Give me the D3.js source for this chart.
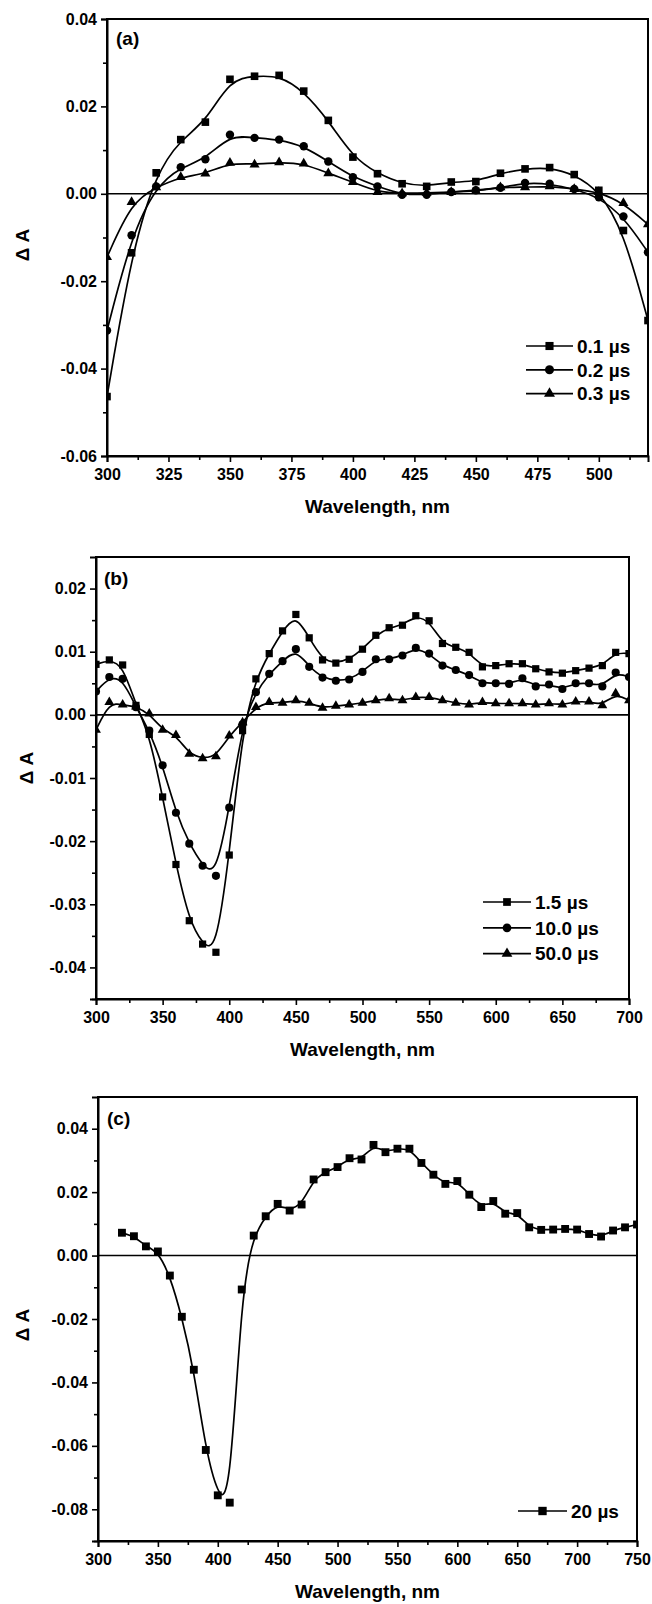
<!DOCTYPE html>
<html>
<head>
<meta charset="utf-8">
<script src="https://cdn.jsdelivr.net/npm/d3@7"></script>
<style>
    body { margin: 0; background: #fff; }
    svg  { display: block; font-family: "Liberation Sans", Arial, Helvetica, sans-serif; font-weight: bold; }
</style>
</head>
<body>
<svg id="chart" width="652" height="1604"></svg>
<script>
(function () {
    'use strict';

    // ── 数据 (a) ──────────────────────────────────────────────────────────────
    const wlA   = [300, 310, 320, 330, 340, 350, 360, 370, 380, 390, 400, 410,
                   420, 430, 440, 450, 460, 470, 480, 490, 500, 510, 520];
    const a01us = [-0.0464, -0.0135, 0.0048, 0.0124, 0.0164, 0.0262, 0.0269, 0.0271, 0.0235, 0.0168, 0.0084, 0.0046,
                   0.0023, 0.0017, 0.0027, 0.0028, 0.0047, 0.0057, 0.0060, 0.0044, 0.0008, -0.0084, -0.0290];
    const a02us = [-0.0313, -0.0095, 0.0017, 0.0061, 0.0079, 0.0135, 0.0128, 0.0124, 0.0109, 0.0074, 0.0038, 0.0017,
                   -0.0002, -0.0002, 0.0004, 0.0008, 0.0014, 0.0025, 0.0023, 0.0011, -0.0008, -0.0052, -0.0134];
    const a03us = [-0.0145, -0.0019, 0.0015, 0.0038, 0.0046, 0.0071, 0.0067, 0.0072, 0.0069, 0.0047, 0.0027, 0.0004,
                   0.0001, 0.0002, 0.0004, 0.0006, 0.0015, 0.0015, 0.0017, 0.0011, 0.0004, -0.0021, -0.0070];

    // ── 数据 (b) ──────────────────────────────────────────────────────────────
    const wlB    = [300, 310, 320, 330, 340, 350, 360, 370, 380, 390, 400, 410, 420, 430,
                    440, 450, 460, 470, 480, 490, 500, 510, 520, 530, 540, 550, 560, 570,
                    580, 590, 600, 610, 620, 630, 640, 650, 660, 670, 680, 690, 700];
    const b1_5us = [0.0080, 0.0087, 0.0079, 0.0015, -0.0031, -0.0130, -0.0237, -0.0326, -0.0363, -0.0376, -0.0222, -0.0025, 0.0057, 0.0097,
                    0.0133, 0.0159, 0.0122, 0.0087, 0.0082, 0.0088, 0.0104, 0.0126, 0.0138, 0.0142, 0.0157, 0.0149, 0.0113, 0.0107,
                    0.0099, 0.0076, 0.0078, 0.0081, 0.0081, 0.0073, 0.0068, 0.0066, 0.0070, 0.0074, 0.0078, 0.0099, 0.0097];
    const b10us  = [0.0037, 0.0060, 0.0057, 0.0012, -0.0025, -0.0080, -0.0155, -0.0204, -0.0239, -0.0255, -0.0147, -0.0015, 0.0036, 0.0065,
                    0.0085, 0.0104, 0.0076, 0.0059, 0.0054, 0.0056, 0.0068, 0.0088, 0.0088, 0.0094, 0.0106, 0.0097, 0.0078, 0.0071,
                    0.0063, 0.0050, 0.0050, 0.0049, 0.0058, 0.0045, 0.0048, 0.0041, 0.0050, 0.0050, 0.0045, 0.0067, 0.0060];
    const b50us  = [-0.0024, 0.0020, 0.0016, 0.0013, 0.0002, -0.0024, -0.0032, -0.0062, -0.0069, -0.0066, -0.0033, -0.0012, 0.0012, 0.0020,
                    0.0019, 0.0023, 0.0019, 0.0011, 0.0014, 0.0016, 0.0019, 0.0023, 0.0026, 0.0023, 0.0028, 0.0028, 0.0023, 0.0019,
                    0.0016, 0.0020, 0.0018, 0.0018, 0.0018, 0.0016, 0.0018, 0.0016, 0.0021, 0.0021, 0.0015, 0.0034, 0.0023];

    // ── 数据 (c) ──────────────────────────────────────────────────────────────
    const wlC   = [320, 330, 340, 350, 360, 370, 380, 390, 400, 410, 420, 430, 440, 450, 460,
                   470, 480, 490, 500, 510, 520, 530, 540, 550, 560, 570, 580, 590, 600, 610,
                   620, 630, 640, 650, 660, 670, 680, 690, 700, 710, 720, 730, 740, 750];
    const c20us = [0.0072, 0.0061, 0.0029, 0.0013, -0.0063, -0.0193, -0.0360, -0.0613, -0.0756, -0.0779, -0.0107, 0.0063, 0.0124, 0.0163, 0.0142,
                   0.0161, 0.0240, 0.0263, 0.0279, 0.0307, 0.0303, 0.0349, 0.0326, 0.0337, 0.0337, 0.0292, 0.0255, 0.0226, 0.0235, 0.0192,
                   0.0153, 0.0172, 0.0132, 0.0134, 0.0089, 0.0081, 0.0082, 0.0084, 0.0082, 0.0068, 0.0060, 0.0079, 0.0089, 0.0098];

    // ── 刻度 ──────────────────────────────────────────────────────────────────
    const xTicksA      = [300, 325, 350, 375, 400, 425, 450, 475, 500];
    const xMinorA      = [312.5, 337.5, 362.5, 387.5, 412.5, 437.5, 462.5, 487.5, 512.5];
    const yTicksA      = [-0.06, -0.04, -0.02, 0, 0.02, 0.04];
    const yMinorA      = [-0.05, -0.03, -0.01, 0.01, 0.03];
    const xTicksB      = [300, 350, 400, 450, 500, 550, 600, 650, 700];
    const xMinorB      = [325, 375, 425, 475, 525, 575, 625, 675];
    const yTicksB      = [-0.04, -0.03, -0.02, -0.01, 0, 0.01, 0.02];
    const yMinorB      = [-0.045, -0.035, -0.025, -0.015, -0.005, 0.005, 0.015];
    const xTicksC      = [300, 350, 400, 450, 500, 550, 600, 650, 700, 750];
    const xMinorC      = [325, 375, 425, 475, 525, 575, 625, 675, 725];
    const yTicksC      = [-0.08, -0.06, -0.04, -0.02, 0, 0.02, 0.04];
    const yMinorC      = [-0.09, -0.07, -0.05, -0.03, -0.01, 0.01, 0.03];

    const labelsA = ['0.1 µs', '0.2 µs', '0.3 µs'];
    const labelsB = ['1.5 µs', '10.0 µs', '50.0 µs'];
    const labelsC = ['20 µs'];

    const symbols = [d3.symbolSquare, d3.symbolCircle, d3.symbolTriangle];

    // ── 面板布局 ──────────────────────────────────────────────────────────────
    const panels = [
        {
            tag: '(a)', left: 107, right: 648, top: 19, bottom: 456,
            xDomain: [300, 520], yDomain: [-0.06, 0.04],
            xTicks: xTicksA, xMinor: xMinorA, yTicks: yTicksA, yMinor: yMinorA,
            x: wlA, series: [a01us, a02us, a03us], labels: labelsA,
            symSize: [58, 56, 44],
            legend: { x1: 526, x2: 573, y0: 346, dy: 23.8 },
            tagPos: [116, 45], yLab: [22, 245]
        },
        {
            tag: '(b)', left: 96, right: 629, top: 557, bottom: 999,
            xDomain: [300, 700], yDomain: [-0.045, 0.025],
            xTicks: xTicksB, xMinor: xMinorB, yTicks: yTicksB, yMinor: yMinorB,
            x: wlB, series: [b1_5us, b10us, b50us], labels: labelsB,
            symSize: [52, 52, 42],
            legend: { x1: 483, x2: 531, y0: 902, dy: 25.8 },
            tagPos: [104, 585], yLab: [26, 768]
        },
        {
            tag: '(c)', left: 98, right: 637, top: 1097, bottom: 1541,
            xDomain: [300, 750], yDomain: [-0.09, 0.05],
            xTicks: xTicksC, xMinor: xMinorC, yTicks: yTicksC, yMinor: yMinorC,
            x: wlC, series: [c20us], labels: labelsC,
            symSize: [62],
            legend: { x1: 518, x2: 567, y0: 1511, dy: 0 },
            tagPos: [107, 1125], yLab: [22, 1325]
        }
    ];

    const svg = d3.select('#chart');
    const fmtY = d => d3.format('.2f')(d).replace('\u2212', '-');

    panels.forEach((p, pi) => {
        const x = d3.scaleLinear().domain(p.xDomain).range([p.left, p.right]);
        const y = d3.scaleLinear().domain(p.yDomain).range([p.bottom, p.top]);
        const g = svg.append('g');

        const clipId = 'clip' + pi;
        svg.append('clipPath').attr('id', clipId)
            .append('rect')
            .attr('x', p.left).attr('y', p.top)
            .attr('width', p.right - p.left).attr('height', p.bottom - p.top);

        // 零线
        g.append('line')
            .attr('x1', p.left).attr('x2', p.right)
            .attr('y1', y(0)).attr('y2', y(0))
            .attr('stroke', '#000').attr('stroke-width', 1.6);

        const plot = g.append('g').attr('clip-path', `url(#${clipId})`);
        const line = d3.line()
            .x(d => x(d[0])).y(d => y(d[1]))
            .curve(d3.curveBasis);

        p.series.forEach((vals, si) => {
            const pts = p.x.map((w, i) => [w, vals[i]]);
            plot.append('path')
                .attr('d', line(pts))
                .attr('fill', 'none')
                .attr('stroke', '#000')
                .attr('stroke-width', 1.7);
            plot.selectAll(null)
                .data(pts)
                .enter()
                .append('path')
                .attr('d', d3.symbol().type(symbols[si]).size(p.symSize[si]))
                .attr('transform', d => `translate(${x(d[0])},${y(d[1])})`)
                .attr('fill', '#000');
        });

        // 边框
        g.append('rect')
            .attr('x', p.left).attr('y', p.top)
            .attr('width', p.right - p.left).attr('height', p.bottom - p.top)
            .attr('fill', 'none').attr('stroke', '#000').attr('stroke-width', 2);

        // 坐标轴
        const xAx = g.append('g').attr('transform', `translate(0,${p.bottom})`)
            .call(d3.axisBottom(x).tickValues(p.xTicks).tickSize(6).tickPadding(7).tickFormat(d3.format('d')));
        const xMi = g.append('g').attr('transform', `translate(0,${p.bottom})`)
            .call(d3.axisBottom(x).tickValues(p.xMinor).tickSize(4).tickFormat(''));
        const yAx = g.append('g').attr('transform', `translate(${p.left},0)`)
            .call(d3.axisLeft(y).tickValues(p.yTicks).tickSize(6).tickPadding(4).tickFormat(fmtY));
        const yMi = g.append('g').attr('transform', `translate(${p.left},0)`)
            .call(d3.axisLeft(y).tickValues(p.yMinor).tickSize(4).tickFormat(''));

        [xAx, xMi, yAx, yMi].forEach(a => {
            a.select('.domain').attr('stroke-width', 2);
            a.selectAll('.tick line').attr('stroke-width', 1.6);
            a.selectAll('.tick text')
                .attr('fill', '#000')
                .style('font-size', '16px')
                .style('font-weight', 'bold')
                .style('font-family', '"Liberation Sans", Arial, sans-serif');
        });
        xMi.select('.domain').remove();
        yMi.select('.domain').remove();

        // 轴标题
        g.append('text')
            .attr('x', (p.left + p.right) / 2)
            .attr('y', p.bottom + 57)
            .attr('text-anchor', 'middle')
            .style('font-size', '19px')
            .text('Wavelength, nm');

        g.append('text')
            .attr('transform', `translate(${p.yLab[0]},${p.yLab[1]}) rotate(-90)`)
            .attr('text-anchor', 'middle')
            .attr('dy', '0.35em')
            .style('font-size', '19px')
            .text('\u0394 A');

        g.append('text')
            .attr('x', p.tagPos[0]).attr('y', p.tagPos[1])
            .style('font-size', '19px')
            .text(p.tag);

        // 图例
        const lg = p.legend;
        p.labels.forEach((lab, si) => {
            const ly = lg.y0 + si * lg.dy;
            g.append('line')
                .attr('x1', lg.x1).attr('x2', lg.x2)
                .attr('y1', ly).attr('y2', ly)
                .attr('stroke', '#000').attr('stroke-width', 1.7);
            g.append('path')
                .attr('d', d3.symbol().type(symbols[si]).size(p.symSize[si] + 8))
                .attr('transform', `translate(${(lg.x1 + lg.x2) / 2},${ly})`)
                .attr('fill', '#000');
            g.append('text')
                .attr('x', lg.x2 + 4)
                .attr('y', ly)
                .attr('dy', '0.36em')
                .style('font-size', '19px')
                .text(lab);
        });
    });
})();
</script>
</body>
</html>
